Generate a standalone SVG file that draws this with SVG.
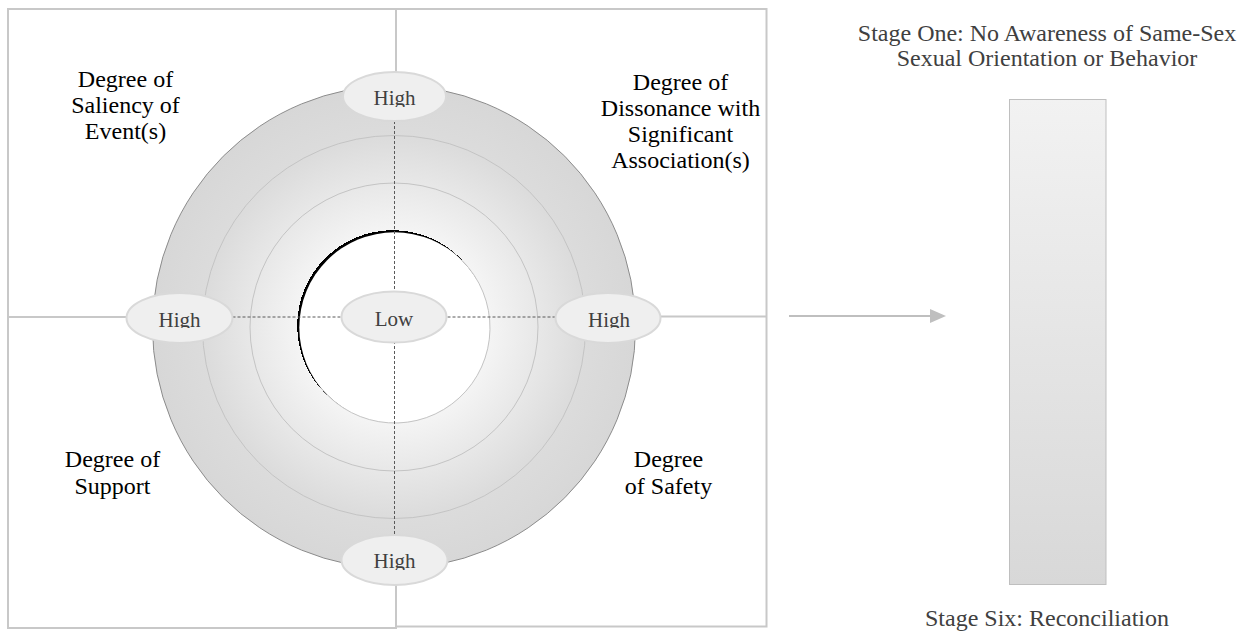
<svg xmlns="http://www.w3.org/2000/svg" width="1243" height="633" viewBox="0 0 1243 633">
<style>
.frame{fill:none;stroke:#c8c8c8;stroke-width:2}
.axis{stroke:#c8c8c8;stroke-width:2;fill:none}
.dash{stroke:#595959;stroke-width:1;stroke-dasharray:3 2;fill:none}
.ring{fill:none;stroke:#c4c4c4;stroke-width:1}
.pill{fill:#efefef;stroke:#d9d9d9;stroke-width:2}
.pl{font-family:"Liberation Serif","Times New Roman",serif;font-size:21px;fill:#404040;text-anchor:middle}
.q{font-family:"Liberation Serif","Times New Roman",serif;font-size:24px;fill:#000000;text-anchor:middle}
.st{font-family:"Liberation Serif","Times New Roman",serif;font-size:24px;fill:#404040;text-anchor:middle}
</style>
<defs>
<radialGradient id="ringGrad" gradientUnits="userSpaceOnUse" cx="394" cy="327" r="241.5">
<stop offset="0" stop-color="#ffffff"/>
<stop offset="0.4" stop-color="#f4f4f4"/>
<stop offset="0.78" stop-color="#dcdcdc"/>
<stop offset="1" stop-color="#d7d7d7"/>
</radialGradient>
<linearGradient id="barGrad" x1="0" y1="0" x2="0" y2="1">
<stop offset="0" stop-color="#f2f2f2"/>
<stop offset="1" stop-color="#d8d8d8"/>
</linearGradient>
<marker id="arrowHead" markerUnits="userSpaceOnUse" markerWidth="16" markerHeight="14" viewBox="0 0 16 14" refX="1" refY="7" orient="auto">
<path d="M0,0 L16,7 L0,14 z" fill="#bfbfbf"/>
</marker>
<clipPath id="clipTop" clipPathUnits="userSpaceOnUse"><rect x="340" y="70" width="110" height="37"/></clipPath>
<clipPath id="clipLeft" clipPathUnits="userSpaceOnUse"><rect x="125" y="290" width="110" height="38"/></clipPath>
<clipPath id="clipRight" clipPathUnits="userSpaceOnUse"><rect x="553" y="290" width="110" height="38"/></clipPath>
<clipPath id="clipBottom" clipPathUnits="userSpaceOnUse"><rect x="340" y="533" width="110" height="37"/></clipPath>
</defs>

<g id="frames">
<rect class="frame" x="8" y="9" width="388" height="619"/>
<rect class="frame" x="396" y="9" width="370.5" height="617.5"/>
</g>

<g id="connectors">
<line class="axis" x1="8" y1="317" x2="127" y2="317"/>
<line class="axis" x1="660" y1="316.5" x2="766.5" y2="316.5"/>
<line class="axis" x1="396" y1="9" x2="396" y2="72"/>
<line class="axis" x1="396" y1="585" x2="396" y2="627"/>
</g>

<g id="target">
<circle cx="394" cy="327" r="241.5" fill="url(#ringGrad)" stroke="#8c8c8c" stroke-width="1"/>
<circle class="ring" cx="394" cy="327" r="191.5"/>
<circle class="ring" cx="394" cy="327" r="144"/>
<circle cx="392.8" cy="325.8" r="95.6" fill="#000000" shape-rendering="crispEdges"/>
<circle cx="394.5" cy="327.5" r="95.2" fill="#ffffff"/>
<path d="M461.8,260.2 A95.2,95.2 0 1 1 321.6,388.7" fill="none" stroke="#c4c4c4" stroke-width="1"/>
</g>

<g id="dashed-connectors">
<line class="dash" x1="394.5" y1="121" x2="394.5" y2="535"/>
<line class="dash" x1="232.5" y1="317" x2="555.5" y2="317"/>
</g>

<g id="node-high-top">
<ellipse class="pill" cx="394.5" cy="96.5" rx="51.5" ry="24.5"/>
<text class="pl" x="394.5" y="105" clip-path="url(#clipTop)">High</text>
</g>
<g id="node-high-left">
<ellipse class="pill" cx="179.5" cy="318" rx="53" ry="25"/>
<text class="pl" x="179.5" y="326.5" clip-path="url(#clipLeft)">High</text>
</g>
<g id="node-high-right">
<ellipse class="pill" cx="608" cy="318" rx="52.5" ry="25"/>
<text class="pl" x="609" y="326.5" clip-path="url(#clipRight)">High</text>
</g>
<g id="node-high-bottom">
<ellipse class="pill" cx="394.5" cy="560" rx="53" ry="25"/>
<text class="pl" x="394.5" y="567.5" clip-path="url(#clipBottom)">High</text>
</g>
<g id="node-low">
<ellipse class="pill" cx="394" cy="317" rx="52.5" ry="25.5"/>
<text class="pl" x="394" y="325.5">Low</text>
</g>

<g id="label-saliency">
<text class="q" x="125.5" y="87">Degree of</text>
<text class="q" x="125.5" y="113">Saliency of</text>
<text class="q" x="125.5" y="139">Event(s)</text>
</g>
<g id="label-dissonance">
<text class="q" x="680.5" y="90">Degree of</text>
<text class="q" x="680.5" y="116">Dissonance with</text>
<text class="q" x="680.5" y="142">Significant</text>
<text class="q" x="680.5" y="168">Association(s)</text>
</g>
<g id="label-support">
<text class="q" x="112.5" y="467">Degree of</text>
<text class="q" x="112.5" y="494">Support</text>
</g>
<g id="label-safety">
<text class="q" x="668.5" y="467">Degree</text>
<text class="q" x="668.5" y="494">of Safety</text>
</g>

<g id="arrow">
<line x1="789" y1="316" x2="931" y2="316" stroke="#bfbfbf" stroke-width="2" marker-end="url(#arrowHead)"/>
</g>

<g id="stage-bar">
<text class="st" x="1047" y="40.5">Stage One: No Awareness of Same-Sex</text>
<text class="st" x="1047" y="66">Sexual Orientation or Behavior</text>
<rect x="1009.5" y="99.5" width="96.5" height="485" fill="url(#barGrad)" stroke="#bfbfbf" stroke-width="1"/>
<text class="st" x="1047" y="626">Stage Six: Reconciliation</text>
</g>
</svg>
